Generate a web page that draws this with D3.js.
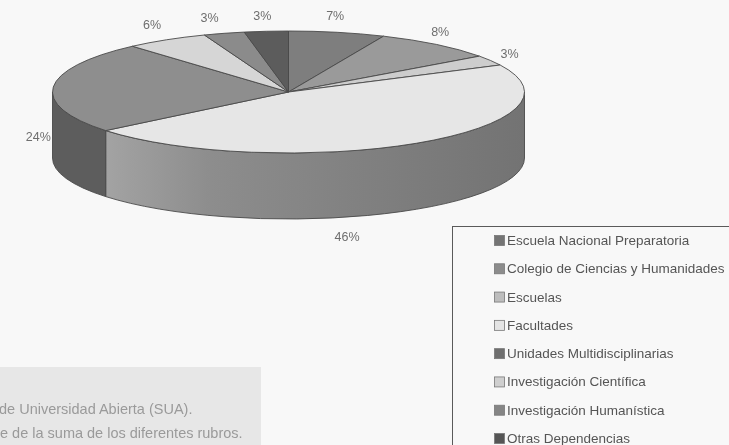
<!DOCTYPE html>
<html><head><meta charset="utf-8">
<script src="https://cdn.jsdelivr.net/npm/d3@7"></script>
<style>html,body{margin:0;padding:0;background:#f8f8f8;overflow:hidden}
svg{filter:blur(0.35px)}
text{font-family:"Liberation Sans",Arial,sans-serif}</style></head>
<body><svg id="c" width="729" height="445"></svg>
<script>
const categories = ["Escuela Nacional Preparatoria","Colegio de Ciencias y Humanidades","Escuelas","Facultades","Unidades Multidisciplinarias","Investigación Científica","Investigación Humanística","Otras Dependencias"];
const values = [6.6,8.4,2.7,46.4,24.4,5.7,2.8,3.0];
const topColors = ["#7e7e7e","#9a9a9a","#cdcdcd","#e6e6e6","#8e8e8e","#d6d6d6","#8b8b8b","#5c5c5c"];
const sideColors = ["#6a6a6a","#777","#aaa","url(#facSide)","#5d5d5d","#aaa","#707070","#484848"];
const legendColors = ["#747474","#8c8c8c","#bdbdbd","#e4e4e4","#6e6e6e","#cfcfcf","#858585","#555555"];
const footnotes = ["de Universidad Abierta (SUA).","e de la suma de los diferentes rubros."];
// label nudges away from the elliptical anchor
const labelNudge = [[-6,-2],[-9,-1],[2,1],[-80,81],[5,51],[-4,-2],[-9,-1],[-2,0]];

const cx=288.5, cy=92, rx=236, ry=61, depth=66;
const svg=d3.select("#c");
const px=d3.scaleLinear().domain([-1,1]).range([cx-rx,cx+rx]);
const py=d3.scaleLinear().domain([-1,1]).range([cy+ry,cy-ry]);
const pieData=d3.pie().sort(null).value(d=>d).startAngle(0).endAngle(2*Math.PI)(values);

const defs=svg.append("defs");
const g=defs.append("linearGradient").attr("id","facSide");
g.append("stop").attr("offset","0").attr("stop-color","#a3a3a3");
g.append("stop").attr("offset","0.25").attr("stop-color","#8d8d8d");
g.append("stop").attr("offset","1").attr("stop-color","#737373");

// footnote band
svg.append("rect").attr("x",0).attr("y",367).attr("width",261).attr("height",78).attr("fill","#e7e7e7");
svg.selectAll(".foot").data(footnotes).join("text").attr("class","foot")
  .attr("x",(d,i)=>i?0:-1).attr("y",(d,i)=>414+i*24).attr("font-size",14.5).attr("fill","#9a9a9a").text(d=>d);

const X=a=>px(Math.sin(a)), Y=a=>py(Math.cos(a));
const stroke="#4a4a4a";
// side walls: only the front half (90°..270°) is visible
const lo=Math.PI/2, hi=3*Math.PI/2;
const sides=pieData.map((d,i)=>({a:Math.max(d.startAngle,lo),b:Math.min(d.endAngle,hi),i})).filter(d=>d.b>d.a);
svg.selectAll(".side").data(sides).join("path").attr("class","side")
  .attr("d",d=>`M${X(d.a)},${Y(d.a)}A${rx},${ry} 0 0 1 ${X(d.b)},${Y(d.b)}L${X(d.b)},${Y(d.b)+depth}A${rx},${ry} 0 0 0 ${X(d.a)},${Y(d.a)+depth}Z`)
  .attr("fill",d=>sideColors[d.i]).attr("stroke",stroke).attr("stroke-width",0.9);
// top face
svg.selectAll(".top").data(pieData).join("path").attr("class","top")
  .attr("d",d=>`M${cx},${cy}L${X(d.startAngle)},${Y(d.startAngle)}A${rx},${ry} 0 ${d.endAngle-d.startAngle>Math.PI?1:0} 1 ${X(d.endAngle)},${Y(d.endAngle)}Z`)
  .attr("fill",(d,i)=>topColors[i]).attr("stroke",stroke).attr("stroke-width",0.9).attr("stroke-linejoin","round");
// percent labels
svg.selectAll(".lab").data(pieData).join("text").attr("class","lab")
  .attr("x",(d,i)=>cx+(rx+20)*Math.sin((d.startAngle+d.endAngle)/2)+labelNudge[i][0])
  .attr("y",(d,i)=>cy-(ry+15)*Math.cos((d.startAngle+d.endAngle)/2)+labelNudge[i][1]+4)
  .attr("text-anchor","middle").attr("font-size",12.5).attr("fill","#6e6e6e").text(d=>Math.round(d.value)+"%");

// legend
svg.append("rect").attr("x",452.5).attr("y",226.5).attr("width",300).attr("height",240).attr("fill","none").attr("stroke","#5a5a5a").attr("stroke-width",1);
const ly=d3.scalePoint().domain(d3.range(categories.length)).range([240.5,438.5]);
const leg=svg.selectAll(".leg").data(categories).join("g").attr("class","leg").attr("transform",(d,i)=>`translate(494.5,${ly(i)})`);
leg.append("rect").attr("x",0).attr("y",-5).attr("width",10).attr("height",10).attr("fill",(d,i)=>legendColors[i]).attr("stroke","#777").attr("stroke-width",0.8);
leg.append("text").attr("x",12.5).attr("y",4.5).attr("font-size",13.5).attr("fill","#555").text(d=>d);
</script></body></html>
